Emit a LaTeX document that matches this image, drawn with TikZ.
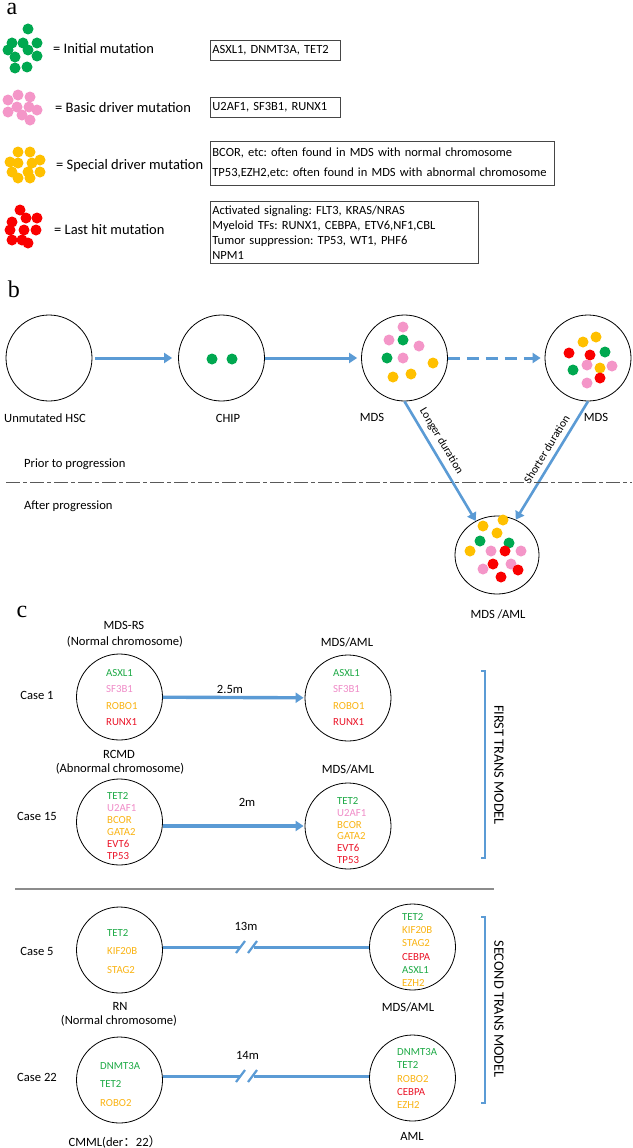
\documentclass[tikz,border=0pt]{standalone}
\usepackage{fontspec}
\setmainfont{Carlito}
\newfontfamily\cjk{Noto Sans CJK SC}
\newfontfamily\lett{Liberation Serif}
\usetikzlibrary{arrows.meta,shapes.geometric,calc}
\frenchspacing
\definecolor{mgreen}{RGB}{0,168,80}
\definecolor{mpink}{RGB}{244,150,200}
\definecolor{myellow}{RGB}{255,192,0}
\definecolor{mred}{RGB}{250,0,0}
\definecolor{tgreen}{RGB}{30,170,70}
\definecolor{tpink}{RGB}{240,140,200}
\definecolor{torange}{RGB}{250,180,20}
\definecolor{tred}{RGB}{235,20,40}
\definecolor{mblue}{RGB}{91,155,213}
\definecolor{boxgray}{RGB}{70,70,70}
\tikzset{
  gdot/.style={fill=mgreen},
  pdot/.style={fill=mpink},
  ydot/.style={fill=myellow},
  rdot/.style={fill=mred},
  letter/.style={anchor=base,inner sep=0pt,font=\lett\fontsize{24}{26}\selectfont},
  leg/.style={anchor=west,inner sep=0pt,font=\fontsize{14.5}{17}\selectfont},
  gbox/.style={draw=boxgray,line width=0.8pt,anchor=north west,inner sep=2pt,align=left,font=\fontsize{12.5}{15}\selectfont},
  lab/.style={inner sep=0pt,font=\fontsize{12.6}{15.5}\selectfont,align=center},
  cell/.style={draw,line width=0.8pt,ellipse,inner sep=0pt,minimum width=86pt,minimum height=86pt},
  gene/.style={anchor=west,inner sep=0pt,align=left},
  barrow/.style={draw=mblue,line width=3pt,-{Triangle[length=8pt,width=10pt]}},
  bline/.style={draw=mblue,line width=3pt},
  brk/.style={draw=mblue,line width=2.2pt},
  brack/.style={draw=mblue,line width=1.6pt},
  vert/.style={rotate=-90,inner sep=0pt,font=\fontsize{14.3}{16}\selectfont},
  slab/.style={sloped,above=5pt,font=\fontsize{11.5}{13}\selectfont,inner sep=0pt},
}
\begin{document}
\begin{tikzpicture}[x=1pt,y=-1pt]
\useasboundingbox (0,0) rectangle (632,1148);
\fill[white] (0,0) rectangle (632,1148);

% ---------------- a ----------------
\node[letter] (la) at (12,15) {a};
\foreach \p in {(28,29),(12,43),(23,43),(37,43),(28,50),(8,50),(15,57),(37,56),(15,68),(27,67)}
  \fill[gdot] \p circle (5.5pt);
\foreach \p in {(18,95),(30,97),(8,100),(17,107),(29,107),(8,112),(22,115),(37,110),(30,120)}
  \fill[pdot] \p circle (5.5pt);
\foreach \p in {(18,152),(30,152),(10,162),(18,163),(32,163),(40,160),(12,172),(28,172),(40,172),(18,178),(30,178)}
  \fill[ydot] \p circle (5.5pt);
\foreach \p in {(20,210),(26,218),(37,218),(12,222),(10,230),(24,230),(36,230),(12,240),(22,240),(28,243)}
  \fill[rdot] \p circle (5.5pt);

\node[leg] (l1) at (53,49) {= Initial mutation};
\node[leg] (l2) at (55,108) {= Basic driver mutation};
\node[leg] (l3) at (56,166) {= Special driver mutation};
\node[leg] (l4) at (54,230) {= Last hit mutation};

\node[gbox,text width=126pt,minimum height=20pt] (b1) at (210,40) {ASXL1, DNMT3A, TET2};
\node[gbox,text width=126pt,minimum height=20pt] (b2) at (210,97) {U2AF1, SF3B1, RUNX1};
\node[gbox,text width=340pt,minimum height=44pt,font=\fontsize{12.5}{20}\selectfont] (b3) at (210,141)
  {BCOR, etc: often found in MDS with normal chromosome\\TP53,EZH2,etc: often found in MDS with abnormal chromosome};
\node[gbox,text width=264pt,minimum height=62pt,font=\fontsize{12.5}{15}\selectfont] (b4) at (210,201)
  {Activated signaling: FLT3, KRAS/NRAS\\Myeloid TFs: RUNX1, CEBPA, ETV6,NF1,CBL\\Tumor suppression: TP53, WT1, PHF6\\NPM1};

% ---------------- b ----------------
\node[letter] (lb) at (14,297) {b};
\node[cell] (h1) at (49,358) {};
\node[cell] (h2) at (221.5,358) {};
\node[cell] (h3) at (404.5,358) {};
\node[cell] (h4) at (588,358) {};
\node[cell,minimum width=84pt,minimum height=78pt] (aml) at (497,555) {};

\fill[gdot] (212,359) circle (5.5pt);
\fill[gdot] (232,359) circle (5.5pt);

\fill[pdot] (403,327) circle (5.5pt);
\fill[pdot] (389,340) circle (5.5pt);
\fill[gdot] (403,340) circle (5.5pt);
\fill[pdot] (419,346) circle (5.5pt);
\fill[gdot] (387,358) circle (5.5pt);
\fill[pdot] (403,358) circle (5.5pt);
\fill[ydot] (433,363) circle (5.5pt);
\fill[ydot] (411,374) circle (5.5pt);
\fill[ydot] (393,377) circle (5.5pt);

\fill[ydot] (583,342) circle (5.5pt);
\fill[ydot] (596,337) circle (5.5pt);
\fill[rdot] (569,353) circle (5.5pt);
\fill[rdot] (590,355) circle (5.5pt);
\fill[gdot] (605,352) circle (5.5pt);
\fill[pdot] (587,365) circle (5.5pt);
\fill[ydot] (600,368) circle (5.5pt);
\fill[pdot] (612,366) circle (5.5pt);
\fill[gdot] (573,370) circle (5.5pt);
\fill[rdot] (600,378) circle (5.5pt);
\fill[pdot] (587,383) circle (5.5pt);

\fill[ydot] (483,526) circle (5.5pt);
\fill[ydot] (503,520) circle (5.5pt);
\fill[ydot] (497,533) circle (5.5pt);
\fill[gdot] (480,541) circle (5.5pt);
\fill[gdot] (509,543) circle (5.5pt);
\fill[ydot] (470,551) circle (5.5pt);
\fill[pdot] (491,551) circle (5.5pt);
\fill[rdot] (505,551) circle (5.5pt);
\fill[pdot] (521,551) circle (5.5pt);
\fill[rdot] (493,564) circle (5.5pt);
\fill[pdot] (483,569) circle (5.5pt);
\fill[pdot] (511,564) circle (5.5pt);
\fill[rdot] (518,570) circle (5.5pt);
\fill[rdot] (501,577) circle (5.5pt);

\draw[barrow,shorten <=3pt,shorten >=6pt] (h1) -- (h2);
\draw[barrow,shorten <=0pt,shorten >=4pt] (h2) -- (h3);
\draw[barrow,dash pattern=on 12pt off 7pt,shorten >=4pt] (h3) -- (h4);

\draw[draw=mblue,line width=2.6pt,-{Triangle[length=8pt,width=10pt]}] (h3.south) -- (aml.122)
  node[slab,pos=0.38] (ld) {Longer duration};
\draw[draw=mblue,line width=2.6pt,-{Triangle[length=8pt,width=10pt]}] (h4.south) -- (aml.62)
  node[slab,pos=0.45] (sd) {Shorter duration};

\node[lab] (t1) at (45,418) {Unmutated HSC};
\node[lab] (t2) at (228,418) {CHIP};
\node[lab] (t3) at (372,417) {MDS};
\node[lab] (t4) at (596,417) {MDS};
\node[lab,anchor=west] (pp) at (24,464) {Prior to progression};
\node[lab,anchor=west] (ap) at (24,506) {After progression};
\node[lab] (t5) at (498,614) {MDS /AML};
\draw[draw=black!65,line width=1pt,dash pattern=on 14pt off 3pt on 4pt off 3pt] (6,482) -- (632,482);

% ---------------- c ----------------
\node[letter] (lc) at (22,617) {c};

\node[cell] (c1) at (119.5,697) {};
\node[cell] (c2) at (348,698) {};
\node[cell] (c3) at (119.5,822) {};
\node[cell] (c4) at (348,826) {};
\node[cell] (c5) at (119.5,950) {};
\node[cell] (c6) at (412.5,947) {};
\node[cell] (c7) at (119.5,1080) {};
\node[cell] (c8) at (412.5,1078) {};

\node[gene,font=\fontsize{10.8}{16.3}\selectfont] (g1) at (106,697.5)
  {\textcolor{tgreen}{ASXL1}\\\textcolor{tpink}{SF3B1}\\\textcolor{torange}{ROBO1}\\\textcolor{tred}{RUNX1}};
\node[gene,font=\fontsize{10.8}{16.3}\selectfont] (g2) at (333,697.5)
  {\textcolor{tgreen}{ASXL1}\\\textcolor{tpink}{SF3B1}\\\textcolor{torange}{ROBO1}\\\textcolor{tred}{RUNX1}};
\node[gene,font=\fontsize{10.8}{12}\selectfont] (g3) at (107,826)
  {\textcolor{tgreen}{TET2}\\\textcolor{tpink}{U2AF1}\\\textcolor{torange}{BCOR}\\\textcolor{torange}{GATA2}\\\textcolor{tred}{EVT6}\\\textcolor{tred}{TP53}};
\node[gene,font=\fontsize{10.8}{11.8}\selectfont] (g4) at (337,830.5)
  {\textcolor{tgreen}{TET2}\\\textcolor{tpink}{U2AF1}\\\textcolor{torange}{BCOR}\\\textcolor{torange}{GATA2}\\\textcolor{tred}{EVT6}\\\textcolor{tred}{TP53}};
\node[gene,font=\fontsize{10.8}{18.5}\selectfont] (g5) at (107,951.5)
  {\textcolor{tgreen}{TET2}\\\textcolor{torange}{KIF20B}\\\textcolor{torange}{STAG2}};
\node[gene,font=\fontsize{10.8}{13.2}\selectfont] (g6) at (402,950)
  {\textcolor{tgreen}{TET2}\\\textcolor{torange}{KIF20B}\\\textcolor{torange}{STAG2}\\\textcolor{tred}{CEBPA}\\\textcolor{tgreen}{ASXL1}\\\textcolor{torange}{EZH2}};
\node[gene,font=\fontsize{10.8}{18.5}\selectfont] (g7) at (100,1084.5)
  {\textcolor{tgreen}{DNMT3A}\\\textcolor{tgreen}{TET2}\\\textcolor{torange}{ROBO2}};
\node[gene,font=\fontsize{10.8}{13.2}\selectfont] (g8) at (397,1078.5)
  {\textcolor{tgreen}{DNMT3A}\\\textcolor{tgreen}{TET2}\\\textcolor{torange}{ROBO2}\\\textcolor{tred}{CEBPA}\\\textcolor{torange}{EZH2}};

\node[lab] (n1) at (124,625) {MDS-RS};
\node[lab] (n2) at (125,642) {(Normal chromosome)};
\node[lab] (n3) at (347,642) {MDS/AML};
\node[lab] (n4) at (37,695) {Case 1};
\node[lab] (n5) at (230,689) {2.5m};
\node[lab] (n6) at (119,754) {RCMD};
\node[lab] (n7) at (120,769) {(Abnormal chromosome)};
\node[lab] (n8) at (348,769) {MDS/AML};
\node[lab] (n9) at (37,816) {Case 15};
\node[lab] (n10) at (247,802) {2m};
\node[lab] (n11) at (37,951) {Case 5};
\node[lab] (n12) at (246,926) {13m};
\node[lab] (n13) at (120,1006) {RN};
\node[lab] (n14) at (119,1021) {(Normal chromosome)};
\node[lab] (n15) at (408,1007) {MDS/AML};
\node[lab] (n16) at (37,1077) {Case 22};
\node[lab] (n17) at (247.5,1055) {14m};
\node[lab] (n18) at (115,1142) {CMML(der{\cjk ：}22{\cjk ）}};
\node[lab] (n19) at (412,1136) {AML};

\draw[barrow,line width=3.4pt,shorten >=1pt] (c1) -- (c2);
\draw[barrow,line width=3.4pt,shorten >=1pt] (c3.east |- c4) -- (c4.west);

\coordinate (k1a) at (240,947);
\coordinate (k1b) at (254,947);
\draw[bline] (c5.east |- c6) -- (k1a);
\draw[bline] (k1b) -- (c6.west);
\draw[brk] (236,953) -- (245,941);
\draw[brk] (248,953) -- (257,941);

\coordinate (k2a) at (240,1076);
\coordinate (k2b) at (254,1076);
\draw[bline] (c7.east |- k2a) -- (k2a);
\draw[bline] (k2b) -- (c8.west |- k2b);
\draw[brk] (236,1082) -- (245,1070);
\draw[brk] (248,1082) -- (257,1070);

\draw[draw=black!45,line width=1.2pt] (15,889) -- (494,889);

\coordinate (q1) at (485,671);
\coordinate (q2) at (485,858);
\draw[brack] ($(q1)+(-4,0)$) -- (q1) -- (q2) -- ($(q2)+(-4,0)$);
\node[vert] (m1) at (499,765) {FIRST TRANS MODEL};
\coordinate (q3) at (485,917);
\coordinate (q4) at (485,1103);
\draw[brack] ($(q3)+(-4,0)$) -- (q3) -- (q4) -- ($(q4)+(-4,0)$);
\node[vert] (m2) at (499,1009) {SECOND TRANS MODEL};
\end{tikzpicture}
\end{document}
